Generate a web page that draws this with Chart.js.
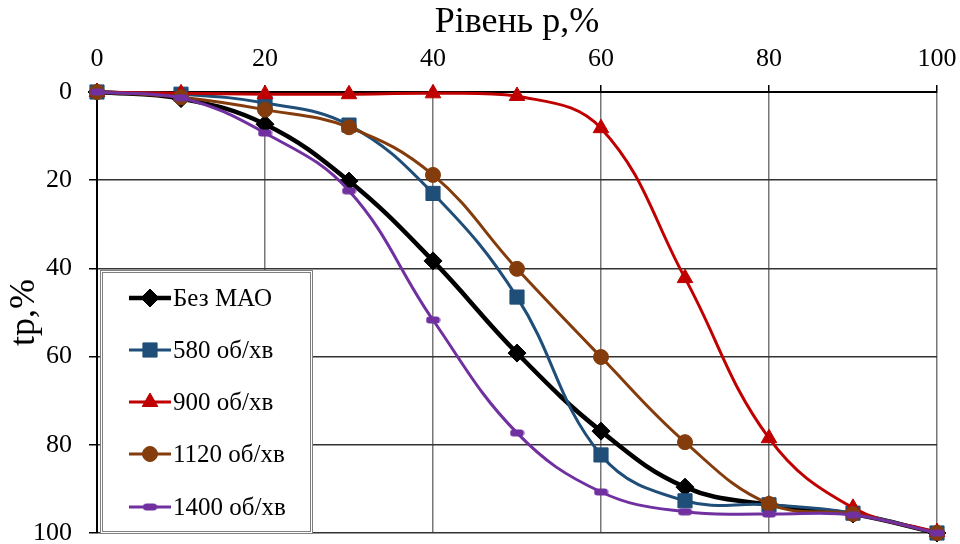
<!DOCTYPE html>
<html>
<head>
<meta charset="utf-8">
<script src="https://cdn.jsdelivr.net/npm/chart.js@4.4.1/dist/chart.umd.min.js"></script>
<style>
  html, body { margin: 0; padding: 0; background: #fff; }
  #wrap { width: 960px; height: 544px; position: relative; }
</style>
</head>
<body>
<div id="wrap"><canvas id="line-chart"></canvas></div>
<script>
// data
var levels = [0, 10, 20, 30, 40, 50, 60, 70, 80, 90, 100];
var seriesNames = ["Без МАО", "580 об/хв", "900 об/хв", "1120 об/хв", "1400 об/хв"];
var bezMao  = [0, 1.5, 7.3, 20.2, 38.3, 59.2, 76.9, 89.6, 93.6, 95.7, 100];
var rpm580  = [0, 0.5, 2.5, 7.5, 23.0, 46.5, 82.3, 92.7, 93.6, 95.5, 100];
var rpm900  = [0, 0.3, 0.5, 0.5, 0.3, 0.9, 8.2, 42.2, 78.5, 94.3, 99.8];
var rpm1120 = [0, 1.2, 4.0, 8.0, 18.8, 40.1, 60.1, 79.4, 93.4, 95.7, 100];
var rpm1400 = [0, 1.3, 9.3, 22.4, 51.7, 77.3, 90.7, 95.2, 95.7, 95.9, 100];
var xTicks = [0, 20, 40, 60, 80, 100];
var yTicks = [0, 20, 40, 60, 80, 100];

var FONT = "'Liberation Serif', 'Times New Roman', serif";

// purple marker is a short fat dash
function dashMarker(color) {
  var c = document.createElement('canvas');
  c.width = 15; c.height = 8;
  var g = c.getContext('2d');
  g.fillStyle = color;
  g.beginPath();
  g.roundRect(0.5, 0.5, 14, 7, 3.5);
  g.fill();
  return c;
}

function xy(vals) {
  return vals.map(function(v, i){ return {x: levels[i], y: v}; });
}

var styles = [
  {color: "#000000", width: 4.5, point: 'rectRot',  radius: 9},
  {color: "#1F4E79", width: 3,   point: 'rect',     radius: 10},
  {color: "#C00000", width: 3,   point: 'triangle', radius: 9},
  {color: "#843C0C", width: 3,   point: 'circle',   radius: 7.5},
  {color: "#7030A0", width: 3,   point: dashMarker("#7030A0"), radius: 7}
];
var values = [bezMao, rpm580, rpm900, rpm1120, rpm1400];

var datasets = values.map(function(v, i){
  var s = styles[i];
  return {
    label: seriesNames[i],
    data: xy(v),
    borderColor: s.color,
    backgroundColor: s.color,
    borderWidth: s.width,
    pointStyle: s.point,
    pointRadius: s.radius,
    pointBorderWidth: 1,
    pointBackgroundColor: s.color,
    pointBorderColor: s.color,
    tension: 0.4,
    clip: false,
    order: values.length - i
  };
});

// legend box inside the plot, bottom-left
var innerLegend = {
  id: 'innerLegend',
  afterDatasetsDraw: function(chart) {
    var ctx = chart.ctx, a = chart.chartArea;
    var bx = a.left + 3, by = a.bottom - 263, bw = 213, bh = 264;
    ctx.save();
    ctx.fillStyle = '#fff';
    ctx.fillRect(bx, by, bw, bh);
    ctx.strokeStyle = '#7f7f7f';
    ctx.lineWidth = 1;
    ctx.strokeRect(bx + 0.5, by + 0.5, bw - 1, bh - 1);
    ctx.strokeRect(bx + 2.5, by + 2.5, bw - 5, bh - 5);
    ctx.font = "25px " + FONT;
    ctx.textBaseline = 'middle';
    ctx.textAlign = 'left';
    var rows = [28, 80, 132, 184, 237];
    datasets.forEach(function(d, i){
      var s = styles[i], yy = by + rows[i];
      ctx.strokeStyle = s.color;
      ctx.lineWidth = s.width;
      ctx.beginPath();
      ctx.moveTo(bx + 29, yy);
      ctx.lineTo(bx + 71, yy);
      ctx.stroke();
      ctx.fillStyle = s.color;
      ctx.lineWidth = 1;
      Chart.helpers.drawPoint(ctx, {pointStyle: s.point, radius: s.radius, borderWidth: 1, rotation: 0}, bx + 50, yy);
      ctx.fillStyle = '#000';
      ctx.fillText(d.label, bx + 73, yy + 1);
    });
    ctx.restore();
  }
};

new Chart(document.getElementById("line-chart"), {
  type: 'line',
  data: { datasets: datasets },
  plugins: [innerLegend],
  options: {
    responsive: true,
    maintainAspectRatio: false,
    animation: false,
    layout: { padding: { left: 0, right: 23, top: 0, bottom: 11 } },
    plugins: { legend: { display: false }, tooltip: { enabled: false } },
    scales: {
      x: {
        type: 'linear',
        position: 'top',
        min: 0, max: 100,
        afterBuildTicks: function(scale){ scale.ticks = xTicks.map(function(v){ return {value: v}; }); },
        afterFit: function(scale){ scale.height = 92; scale.paddingLeft = 0; scale.paddingRight = 0; },
        ticks: { color: '#000', font: { family: FONT, size: 26 }, padding: 10, maxRotation: 0 },
        grid: { color: '#777', lineWidth: 1.5, tickLength: 7, tickColor: '#000' },
        border: { color: '#000', width: 2 },
        title: { display: true, text: 'Рівень p,%', color: '#000', font: { family: FONT, size: 36 }, padding: { top: 1, bottom: 0 } }
      },
      y: {
        type: 'linear',
        reverse: true,
        min: 0, max: 100,
        afterBuildTicks: function(scale){ scale.ticks = yTicks.map(function(v){ return {value: v}; }); },
        afterFit: function(scale){ scale.width = 97; scale.paddingTop = 0; scale.paddingBottom = 0; },
        ticks: { color: '#000', font: { family: FONT, size: 26 }, padding: 17 },
        grid: { color: '#333', lineWidth: 1.5, tickLength: 8, tickColor: '#000' },
        border: { color: '#000', width: 2 },
        title: { display: true, text: 'tp,%', color: '#000', font: { family: FONT, size: 36 }, padding: { top: 3, bottom: 0 } }
      }
    }
  }
});
</script>
</body>
</html>
